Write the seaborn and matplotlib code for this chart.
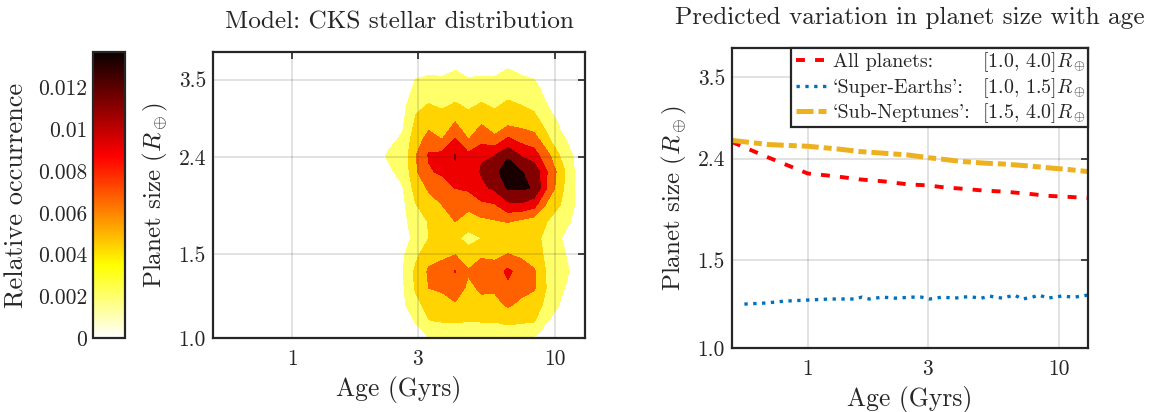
import numpy as np
import matplotlib
matplotlib.use("Agg")
import matplotlib.pyplot as plt
import matplotlib.colors as mcolors
from matplotlib.cm import ScalarMappable
from matplotlib.ticker import NullLocator
import seaborn as sns

sns.set_theme(style="white")
plt.rcParams.update({
    "font.family": ["cmr10", "DejaVu Serif"],
    "mathtext.fontset": "cm",
    "axes.formatter.use_mathtext": True,
    "axes.unicode_minus": False,
})

# ---- occurrence map: age grid (Gyr) x planet-radius grid (Earth radii) ----
grid_age = [2.09, 2.34, 2.63, 2.95, 3.31, 3.72, 4.17, 4.68, 5.25,
            5.89, 6.61, 7.41, 8.32, 9.33, 10.47, 11.75, 13.18]
grid_radius = [1.000, 1.084, 1.175, 1.274, 1.380, 1.496, 1.622, 1.758, 1.905,
               2.065, 2.239, 2.427, 2.630, 2.851, 3.090, 3.350, 3.631, 3.936]

# relative occurrence (x 1e-3); one list per age, ordered by radius
occurrence_by_age = [
    [0.1, 0.3, 0.5, 0.7, 0.8, 0.7, 0.6, 0.6, 0.8, 1.0, 1.3, 1.5, 1.1, 0.8, 0.5, 0.3, 0.2, 0.1],
    [0.4, 0.8, 1.2, 1.4, 1.5, 1.3, 1.1, 1.0, 1.2, 1.5, 1.8, 2.2, 1.6, 1.2, 0.8, 0.5, 0.3, 0.1],
    [0.8, 1.2, 1.6, 1.7, 1.9, 1.7, 1.4, 1.3, 1.5, 1.9, 2.4, 2.7, 2.2, 1.7, 1.3, 0.9, 0.6, 0.3],
    [1.2, 2.1, 3.4, 4.3, 4.4, 3.6, 2.4, 3.2, 3.9, 4.8, 5.7, 5.9, 5.2, 4.3, 3.6, 2.4, 1.7, 1.0],
    [1.9, 3.9, 4.8, 6.0, 6.3, 5.2, 4.0, 4.1, 5.0, 6.3, 7.8, 8.2, 6.6, 5.3, 4.1, 3.1, 1.7, 1.0],
    [1.9, 4.1, 5.2, 6.3, 6.8, 5.6, 4.6, 4.7, 6.0, 7.2, 8.3, 8.5, 5.9, 4.9, 3.7, 2.8, 1.7, 0.9],
    [1.9, 4.2, 5.8, 7.0, 8.1, 6.0, 4.4, 6.0, 7.0, 8.0, 9.8, 10.1, 8.0, 6.0, 4.2, 3.1, 2.1, 1.0],
    [1.9, 4.0, 5.0, 5.6, 6.2, 4.8, 3.3, 5.0, 6.6, 8.3, 8.8, 8.4, 5.9, 4.7, 3.7, 2.7, 1.6, 0.8],
    [1.9, 4.1, 5.5, 6.3, 6.7, 5.8, 4.0, 5.5, 7.5, 9.6, 10.2, 9.8, 7.0, 5.8, 4.2, 2.9, 1.7, 0.9],
    [1.9, 4.1, 5.4, 6.3, 6.8, 5.6, 4.3, 5.8, 7.8, 10.3, 11.2, 9.9, 6.3, 5.0, 3.7, 2.8, 1.7, 0.9],
    [1.9, 4.6, 6.3, 7.5, 8.5, 6.1, 4.5, 6.1, 9.5, 12.2, 13.7, 11.5, 8.2, 5.3, 4.4, 3.1, 2.2, 1.1],
    [1.9, 4.3, 5.5, 6.8, 7.0, 5.7, 4.7, 5.5, 9.7, 12.2, 12.1, 9.8, 7.2, 5.2, 4.0, 2.8, 1.8, 0.9],
    [1.8, 4.1, 5.0, 6.2, 6.3, 4.8, 4.4, 5.0, 8.7, 11.9, 11.4, 8.8, 6.8, 4.6, 3.6, 2.5, 1.6, 0.8],
    [1.0, 2.1, 3.4, 3.8, 3.7, 3.6, 3.6, 4.0, 5.5, 7.8, 8.0, 6.6, 4.3, 3.3, 2.0, 1.4, 0.9, 0.5],
    [0.4, 1.0, 1.9, 2.3, 2.6, 2.4, 2.1, 2.6, 4.0, 4.6, 5.0, 3.8, 2.4, 1.6, 1.0, 0.6, 0.4, 0.2],
    [0.2, 0.5, 0.9, 1.3, 1.7, 1.4, 1.2, 1.8, 2.1, 2.1, 2.1, 1.9, 1.3, 0.8, 0.5, 0.3, 0.2, 0.1],
    [0.1, 0.2, 0.4, 0.6, 0.8, 0.7, 0.6, 0.8, 1.0, 1.0, 1.0, 0.9, 0.6, 0.4, 0.2, 0.1, 0.1, 0.0],
]
contour_levels = [0.002, 0.004, 0.006, 0.008, 0.010, 0.012]
cbar_ticks = [0, 0.002, 0.004, 0.006, 0.008, 0.010, 0.012]
cbar_ticklabels = ["0", "0.002", "0.004", "0.006", "0.008", "0.01", "0.012"]

# ---- mean planet size versus age ----
trend_age = [0.5, 0.7, 1.0, 1.3, 1.6, 2.0, 2.5, 3.0, 3.5, 4.0, 5.0, 6.0, 7.5, 9.0, 11.0, 13.0]
size_all = [2.59, 2.41, 2.24, 2.21, 2.18, 2.16, 2.13, 2.12, 2.10, 2.09, 2.07, 2.06,
            2.04, 2.02, 2.01, 2.00]
size_sub_neptunes = [2.61, 2.56, 2.54, 2.51, 2.48, 2.46, 2.44, 2.41, 2.39, 2.37, 2.35,
                     2.34, 2.32, 2.30, 2.28, 2.26]
se_age = [0.56, 0.68, 0.81, 1.0, 1.22, 1.54, 1.64, 1.76, 1.98, 2.23, 2.61, 2.83, 3.05,
          3.43, 3.83, 4.35, 4.90, 5.27, 5.94, 6.63, 7.13, 7.81, 8.33, 8.96, 10.2, 11.5, 13.0]
size_super_earths = [1.225, 1.231, 1.242, 1.248, 1.254, 1.254, 1.265, 1.254, 1.265, 1.259,
                     1.265, 1.265, 1.254, 1.265, 1.259, 1.268, 1.259, 1.271, 1.259, 1.277,
                     1.254, 1.265, 1.277, 1.259, 1.271, 1.265, 1.277]

age_ticks = [1, 3, 10]
age_ticklabels = ["1", "3", "10"]
size_ticks = [1.0, 1.5, 2.4, 3.5]
size_ticklabels = ["1.0", "1.5", "2.4", "3.5"]

legend_names = ["All planets:", "`Super-Earths':", "`Sub-Neptunes':"]
legend_ranges = [r"[1.0, 4.0]$R_\oplus$", r"[1.0, 1.5]$R_\oplus$", r"[1.5, 4.0]$R_\oplus$"]

FRAME = "#262626"
TEXT = "#262626"
TICK_FS = 15.5
LEG_FS = 14.4
TITLE_FS = 18.2
XLABEL_FS = 18.4
YLABEL_FS = 18.0
CBAR_LABEL_FS = 19.0

W, H = 1151, 412
fig = plt.figure(figsize=(W / 100, H / 100), dpi=100)


def px_axes(left, top, right, bottom):
    return fig.add_axes([left / W, 1 - bottom / H, (right - left) / W, (bottom - top) / H])


def style_axes(ax, grid_order):
    ax.set_xscale("log")
    ax.set_yscale("log")
    ax.set_xlim(0.5, 13)
    ax.set_ylim(1.0, 4.0)
    ax.set_xticks(age_ticks)
    ax.set_xticklabels(age_ticklabels)
    ax.set_yticks(size_ticks)
    ax.set_yticklabels(size_ticklabels)
    ax.xaxis.set_minor_locator(NullLocator())
    ax.yaxis.set_minor_locator(NullLocator())
    ax.tick_params(which="major", direction="in", length=5, width=1.2, color=FRAME,
                   top=True, right=True, labelsize=TICK_FS, labelcolor=TEXT)
    ax.tick_params(axis="x", pad=8)
    ax.tick_params(axis="y", pad=5)
    for sp in ax.spines.values():
        sp.set_linewidth(1.6)
        sp.set_color(FRAME)
    ax.grid(True, which="major", color=FRAME, alpha=0.15, linewidth=1.3)
    ax.set_axisbelow(grid_order)
    ax.set_xlabel("Age (Gyrs)", fontsize=XLABEL_FS, labelpad=5, color=TEXT)
    ax.set_ylabel(r"Planet size ($R_\oplus$)", fontsize=YLABEL_FS, labelpad=6, color=TEXT)


# ---- colourbar ----
Z = np.column_stack(occurrence_by_age) * 1e-3
vmax = Z.max()
cmap = plt.get_cmap("hot_r")
norm = mcolors.Normalize(vmin=0, vmax=vmax)
band_colors = [cmap(v) for v in (0.15, 0.32, 0.49, 0.66, 0.82, 0.98)]

cax = px_axes(93, 52, 125, 338)
cb = fig.colorbar(ScalarMappable(norm=norm, cmap=cmap), cax=cax)
cb.set_ticks(cbar_ticks)
cb.set_ticklabels(cbar_ticklabels)
cax.yaxis.set_ticks_position("left")
cax.yaxis.set_label_position("left")
cax.tick_params(direction="in", length=4, width=1.2, color=FRAME, labelsize=TICK_FS,
                pad=4, labelcolor=TEXT)
cb.outline.set_linewidth(1.6)
cb.outline.set_edgecolor(FRAME)
cb.set_label("Relative occurrence", fontsize=CBAR_LABEL_FS, labelpad=7, color=TEXT)

# ---- occurrence contour map ----
ax1 = px_axes(213, 52, 585, 338)
ax1.contourf(grid_age, grid_radius, Z, levels=contour_levels + [vmax * 1.001],
             colors=band_colors)
style_axes(ax1, False)
ax1.set_title("Model: CKS stellar distribution", fontsize=TITLE_FS, pad=17, color=TEXT)

# ---- size trends ----
ax2 = px_axes(732, 48, 1088, 348)
sns.lineplot(x=trend_age, y=size_all, ax=ax2, color="#ff0000", linewidth=2.8, sort=False)
ax2.get_lines()[-1].set_dashes([2.3, 2.6])
sns.lineplot(x=se_age, y=size_super_earths, ax=ax2, color="#0072bd", linewidth=2.4,
             sort=False)
ax2.get_lines()[-1].set_dashes([1.0, 1.65])
sns.lineplot(x=trend_age, y=size_sub_neptunes, ax=ax2, color="#edb120", linewidth=3.6,
             sort=False)
ax2.get_lines()[-1].set_dashes([3.4, 1.0, 1.6, 1.0])
style_axes(ax2, "line")
ax2.set_title("Predicted variation in planet size with age", fontsize=TITLE_FS, pad=17,
              color=TEXT)

# legend box spans the upper-right corner; ranges form a second aligned column
leg_left = (791 - 732) / 356
leg = ax2.legend(ax2.get_lines()[:3], legend_names, loc="upper left",
                 bbox_to_anchor=(leg_left, 0.0, 1 - leg_left, 1.0), mode="expand",
                 borderaxespad=0, fontsize=LEG_FS, handlelength=1.5, handletextpad=0.33,
                 labelspacing=0.38, borderpad=0.25, frameon=True, fancybox=False,
                 framealpha=1, edgecolor=FRAME)
leg.get_frame().set_linewidth(1.6)
for t in leg.get_texts():
    t.set_color(TEXT)

fig.canvas.draw()
range_x = (982 - 732) / 356
to_axes = ax2.transAxes.inverted()
for t, rng in zip(leg.get_texts(), legend_ranges):
    base = t.get_transform().transform((0, 0))
    _, y_ax = to_axes.transform(base)
    ax2.text(range_x, y_ax, rng, transform=ax2.transAxes, fontsize=LEG_FS, color=TEXT,
             ha="left", va="baseline", zorder=10, clip_on=False)

fig.savefig("out.png", dpi=100)
